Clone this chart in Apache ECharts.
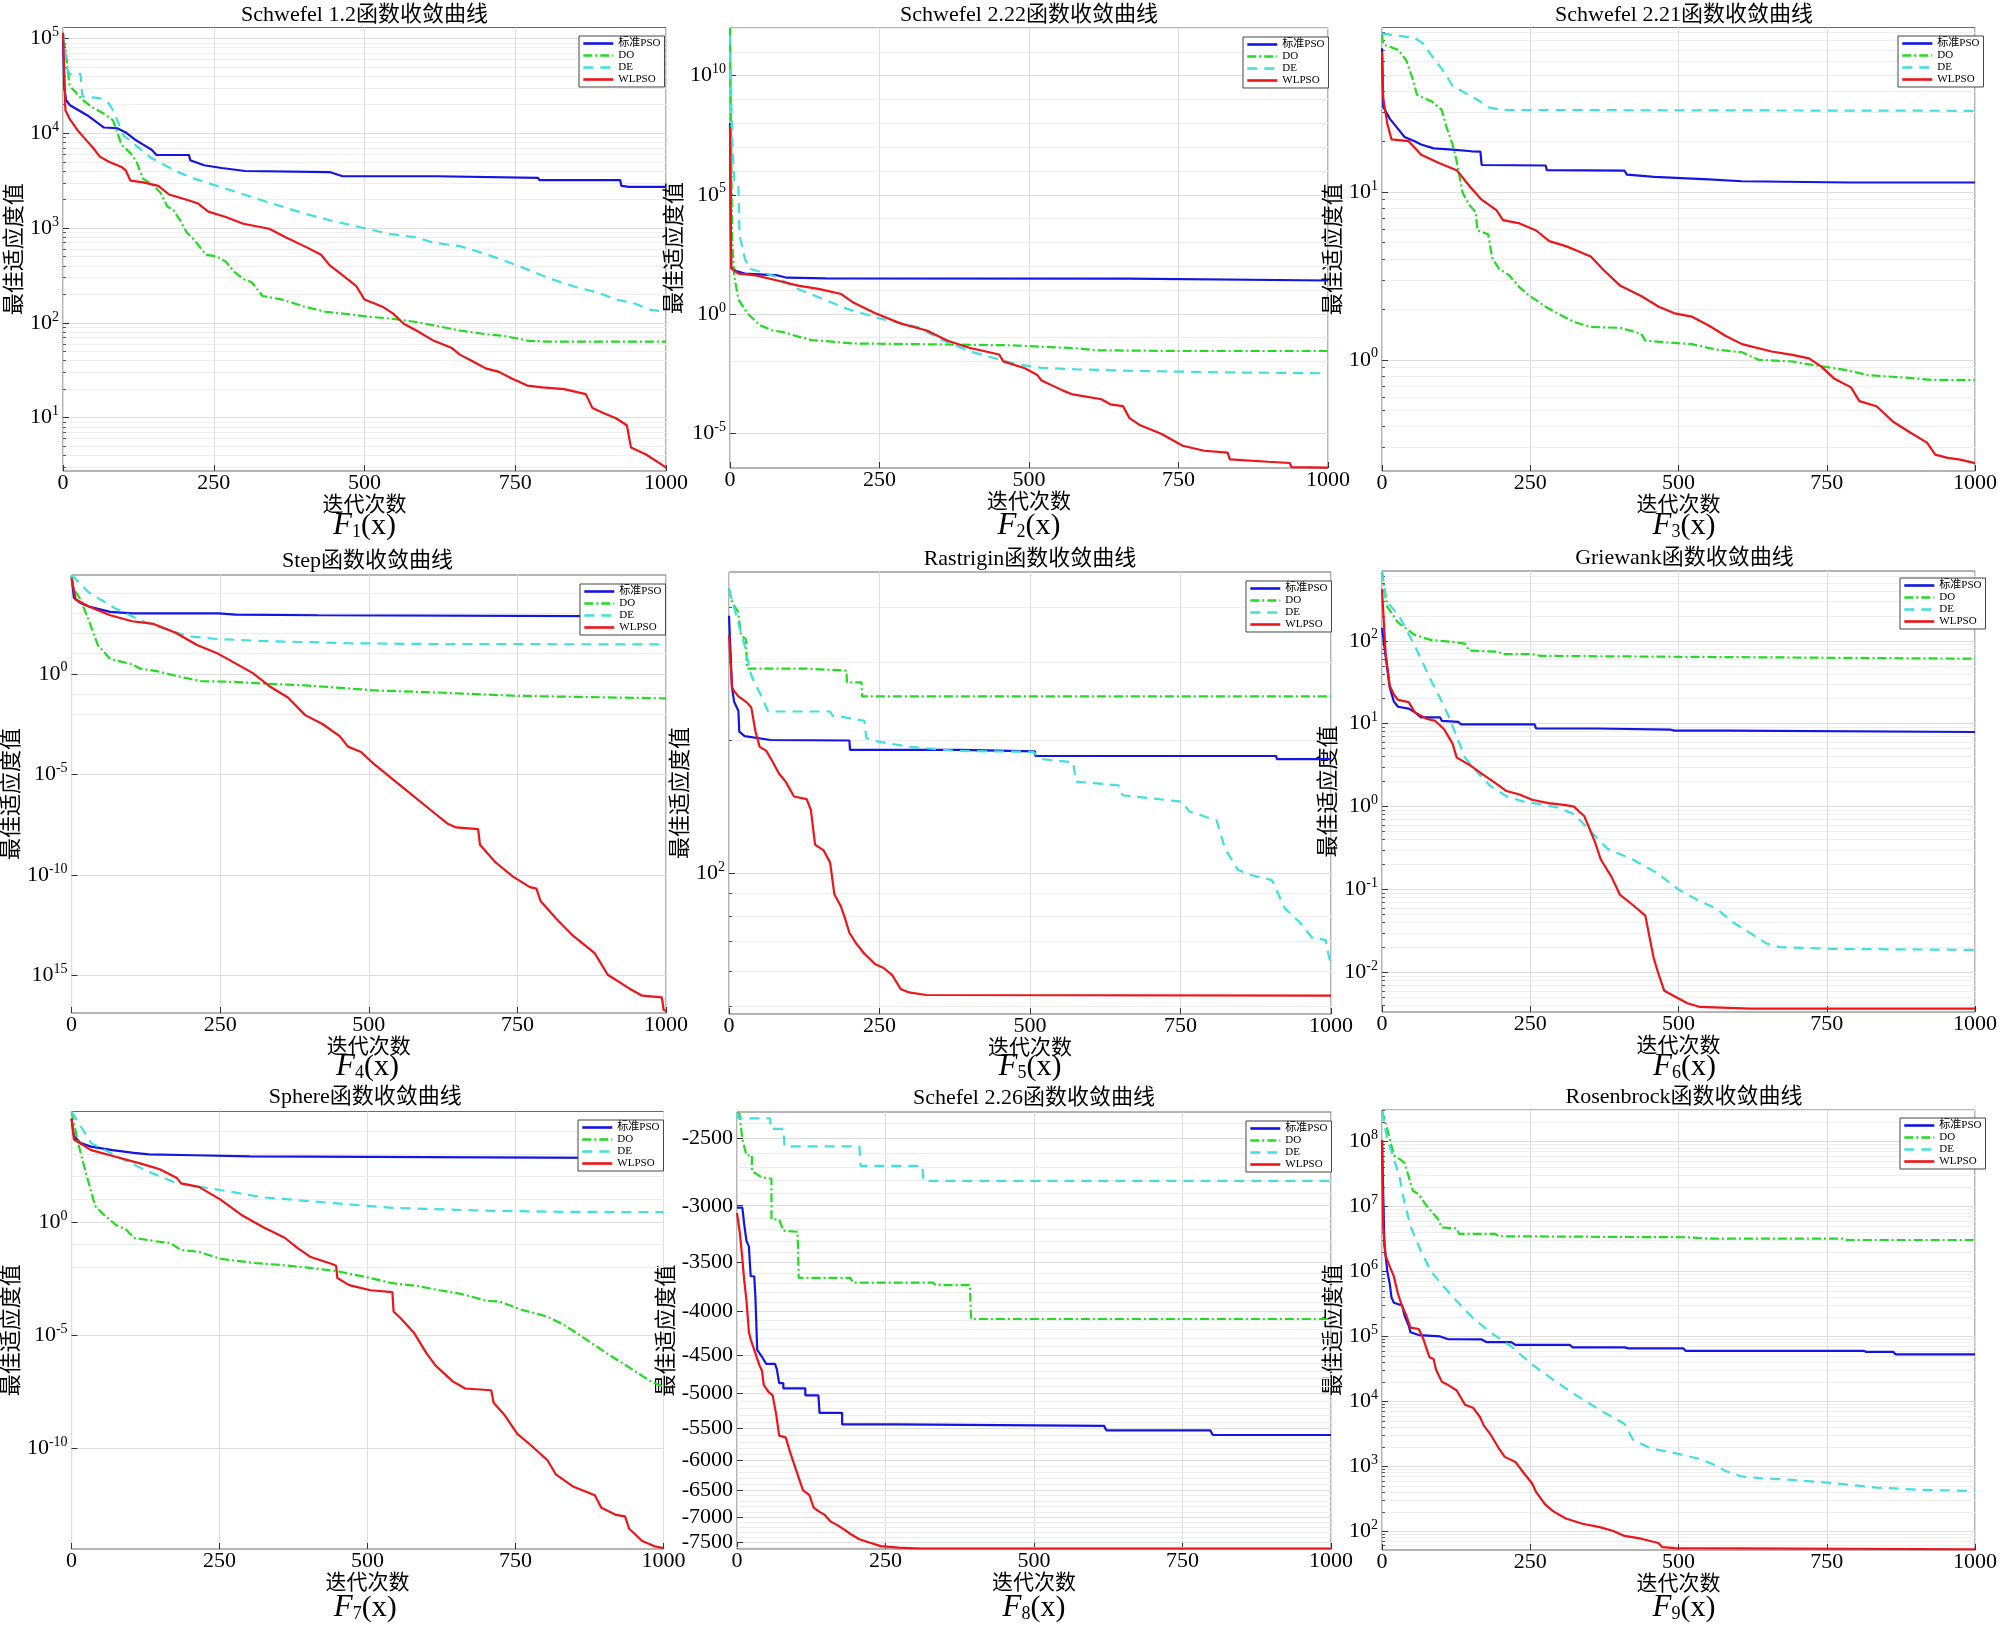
<!DOCTYPE html>
<html><head><meta charset="utf-8">
<script src="https://cdn.jsdelivr.net/npm/echarts/dist/echarts.min.js"></script>
<style>html,body{margin:0;padding:0;background:#fff}#c{width:2000px;height:1637px}</style>
</head><body><div id="c"></div>
<script>
// ---------------- data (iteration, best fitness) ----------------
const seriesNames = ['标准PSO', 'DO', 'DE', 'WLPSO'];
const xTicks = [0, 250, 500, 750, 1000];

const f1_pso = [[0,110000],[2,31500],[5,22500],[11,19900],[40,15500],[68,11500],[90,11300],[104,10200],[119,8600],[133,7600],[147,6700],[155,5900],[209,5900],[211,5200],[234,4600],[263,4300],[302,4000],[442,3900],[464,3520],[619,3520],[621,3380],[788,3380],[790,3210],[924,3210],[926,2790],[939,2720],[1000,2720]];
const f1_do = [[0,101600],[4,79100],[11,31600],[22,26700],[32,22600],[47,19100],[68,16100],[83,13700],[97,7600],[112,6170],[122,5000],[133,3300],[147,2900],[162,2360],[173,1690],[183,1550],[194,1210],[205,903],[219,732],[237,523],[255,502],[270,442],[284,344],[299,291],[313,268],[331,192],[363,176],[399,149],[435,131],[471,124],[507,116],[543,111],[586,102],[615,94],[658,83],[701,76],[730,73],[773,64.6],[802,63.5],[1000,63.5]];
const f1_de = [[0,115000],[7,47000],[11,42300],[29,42300],[32,24500],[61,23500],[76,20700],[83,17500],[101,9370],[119,7600],[133,6430],[147,5440],[169,4600],[191,3890],[219,3300],[255,2790],[291,2360],[327,1990],[363,1690],[399,1430],[442,1210],[493,1020],[543,864],[586,795],[615,701],[658,644],[687,569],[737,442],[781,344],[809,291],[853,236],[888,208],[917,176],[946,162],[975,137],[1000,131]];
const f1_wl = [[0,115000],[4,17500],[11,14200],[25,10600],[40,8260],[50,7000],[61,5670],[76,5000],[97,4410],[104,4060],[112,3160],[133,3030],[158,2790],[176,2260],[205,1990],[223,1830],[241,1490],[270,1310],[299,1110],[342,984],[370,795],[406,618],[428,523],[442,406],[464,316],[486,246],[500,176],[529,149],[547,126],[565,98],[586,83],[615,64.6],[644,54.7],[658,46.2],[680,39.1],[701,33.1],[723,30.4],[745,25.7],[770,21.8],[795,20.9],[831,20.0],[867,17.7],[878,12.6],[896,11.2],[917,9.85],[935,8.32],[942,4.83],[967,4.08],[989,3.31],[1000,2.97]];
const f1_yRange = [2.735, 130600];
const f1_yTicks = [10, 100, 1000, 1e4, 1e5];

const f2_pso = [[0,1e8],[2,90],[10,62],[25,49],[80,41],[95,33],[160,31],[665,30],[668,25.5],[1000,25.2]];
const f2_do = [[0,1e12],[3.6,1150],[7,41.5],[14,4.05],[29,1.07],[50,0.333],[71,0.202],[89,0.171],[114,0.111],[136,0.080],[186,0.063],[207,0.057],[329,0.053],[471,0.048],[579,0.036],[614,0.0295],[757,0.0276],[1000,0.0276]];
const f2_de = [[0,5e11],[3.6,2.5e7],[7,3.3e5],[14,2.4e5],[16,2000],[25,200],[32,81],[79,35],[107,13],[143,5.6],[200,1.5],[250,0.65],[314,0.28],[357,0.075],[400,0.0275],[450,0.012],[479,0.0078],[521,0.0054],[579,0.0047],[686,0.004],[829,0.0035],[1000,0.0032]];
const f2_wl = [[0,6.8e7],[2,81],[14,49],[43,41.5],[79,25.2],[114,15.3],[150,11],[186,6.8],[207,2.9],[243,1.07],[286,0.39],[329,0.2],[364,0.075],[400,0.038],[450,0.0197],[457,0.0101],[493,0.0052],[514,0.0027],[521,0.0016],[557,6e-4],[571,4.3e-4],[621,2.6e-4],[636,1.6e-4],[657,1.35e-4],[668,4.2e-5],[686,2.1e-5],[721,9.3e-6],[757,2.9e-6],[793,1.8e-6],[832,1.5e-6],[836,7.8e-7],[900,6.2e-7],[936,5.5e-7],[939,3.7e-7],[1000,3.5e-7]];
const f2_yRange = [3.39e-7, 1e12];
const f2_yTicks = [1e-5, 1, 1e5, 1e10];

const f3_pso = [[0,72],[2,32.3],[13,27.4],[27,23.8],[38,21.3],[55,20.1],[66,19.2],[87,18.2],[119,17.9],[151,17.5],[166,17.4],[168,14.5],[276,14.4],[278,13.5],[409,13.4],[413,12.7],[459,12.3],[551,11.9],[607,11.6],[788,11.4],[1000,11.4]];
const f3_do = [[0,87],[2,75.7],[27,70.5],[41,61],[52,47],[59,38],[84,34.7],[101,30.8],[108,24.9],[119,19.2],[126,15.2],[136,9.9],[147,8.4],[158,7.6],[161,5.9],[179,5.6],[186,4.04],[197,3.5],[214,3.2],[232,2.7],[246,2.45],[275,2.08],[296,1.89],[324,1.68],[352,1.57],[402,1.55],[437,1.43],[444,1.3],[480,1.27],[522,1.24],[564,1.15],[607,1.11],[635,1.0],[692,0.977],[728,0.93],[784,0.867],[820,0.809],[869,0.789],[926,0.76],[1000,0.76]];
const f3_de = [[0,88],[55,83],[69,77],[87,62.6],[105,51.9],[119,42.9],[140,39],[161,35.5],[180,32],[204,30.8],[268,30.8],[1000,30.5]];
const f3_wl = [[0,68.9],[2,36.4],[9,25.5],[16,20.6],[45,20.1],[66,16.7],[98,14.8],[126,13.5],[147,10.9],[168,9.0],[193,7.8],[204,6.8],[232,6.5],[260,5.9],[282,5.1],[310,4.76],[331,4.44],[352,4.13],[374,3.42],[402,2.76],[437,2.4],[466,2.08],[494,1.89],[522,1.81],[551,1.6],[579,1.39],[607,1.24],[657,1.12],[692,1.07],[720,1.02],[741,0.91],[763,0.77],[791,0.685],[805,0.567],[834,0.529],[862,0.427],[890,0.37],[919,0.321],[933,0.272],[954,0.26],[975,0.254],[1000,0.242]];
const f3_yRange = [0.2173, 95.7];
const f3_yTicks = [1, 10];

const f4_pso = [[0,67000],[4,6000],[15,3300],[29,2200],[65,1200],[102,1000],[247,1000],[276,880],[415,810],[418,720],[1000,720]];
const f4_do = [[0,81000],[4,16000],[15,4900],[29,445],[44,27],[65,5.4],[102,2.95],[116,1.8],[145,1.32],[182,0.72],[218,0.43],[269,0.4],[320,0.33],[393,0.266],[516,0.146],[611,0.119],[749,0.08],[1000,0.06]];
const f4_de = [[0,81000],[29,11000],[73,1800],[116,450],[160,163],[196,73],[247,53],[320,43],[465,33],[611,30],[1000,29]];
const f4_wl = [[0,55000],[7,4900],[29,2200],[65,810],[102,410],[138,300],[175,109],[211,27],[247,9.8],[284,2.4],[305,1.08],[335,0.22],[364,0.066],[393,0.0088],[422,0.0032],[451,8e-4],[465,2.4e-4],[487,1.3e-4],[509,3.2e-5],[538,6.5e-6],[567,1.3e-6],[604,1.7e-7],[633,3.5e-8],[647,2.3e-8],[684,1.9e-8],[687,3.2e-9],[713,4.3e-10],[742,8.5e-11],[771,2.5e-11],[782,2.1e-11],[789,5.1e-12],[815,6.9e-13],[844,9.3e-14],[880,1.3e-14],[902,1.1e-15],[938,2.3e-16],[960,1e-16],[993,8.3e-17],[996,2e-17],[1000,1.7e-17]];
const f4_yRange = [1.38e-17, 8.13e4];
const f4_yTicks = [1, 1e-5, 1e-10, 1e-15];
const f4_yTickExp = ['0', '-5', '-10', '15'];

const f5_pso = [[0,382],[5,263],[8.5,244],[15.6,233],[17,209],[26,204],[69,200],[200,199.5],[201,190],[384,190],[385,188.5],[508,188.5],[509,184],[909,184],[910,181],[1000,181]];
const f5_do = [[0,440],[5,410],[15,390],[20,345],[28,338],[30,290],[129,290],[131,287],[195,287],[196,270],[220,270],[221,251],[1000,251]];
const f5_de = [[0,438],[26,327],[37,280],[55,249],[65,232],[168,232],[172,227],[193,225],[225,221],[228,202],[250,198],[300,193],[377,189],[505,188],[519,181],[572,178],[576,161],[647,158],[654,150],[753,145],[764,138],[810,131.5],[824,113.6],[845,101.8],[867,99],[902,96.4],[923,83.3],[948,77.4],[969,71.3],[991,70.6],[1000,61.4]];
const f5_wl = [[0,346],[5,263],[8.5,258],[15.6,251],[30,243],[37,237],[44,209],[51,193],[62,189],[72,179],[83,168],[94,161],[108,149],[129,147],[136,139],[143,116],[157,112.6],[168,105.6],[175,89.6],[186,84],[193,78.8],[200,73.3],[211,69.4],[225,65.7],[243,62.2],[257,61],[271,58.8],[285,54.7],[299,53.7],[328,53],[1000,52.8]];
const f5_yRange = [48.0, 479.8];
const f5_yTicks = [100];

const f6_pso = [[0,143],[6,66],[13,27.4],[20,18.5],[27,16],[45,15.2],[55,13.8],[66,11.9],[98,11.9],[101,10.8],[129,10.5],[133,9.84],[257,9.84],[260,8.75],[363,8.75],[366,8.5],[486,8.5],[493,8.24],[582,8.24],[585,7.94],[1000,7.94]];
const f6_do = [[0,683],[9,257],[27,166],[55,118],[83,102],[119,97],[140,92.5],[147,76],[196,74],[204,69],[253,69],[267,65.8],[437,64.6],[440,61.4],[1000,60.8]];
const f6_de = [[0,683],[6,313],[30,192],[41,136],[55,88],[69,54],[83,33],[98,20.4],[112,12.5],[126,7],[140,3.9],[161,2.6],[182,1.79],[210,1.33],[239,1.15],[267,1.07],[295,0.98],[324,0.81],[352,0.5],[380,0.31],[423,0.23],[465,0.156],[500,0.1],[536,0.072],[564,0.059],[592,0.04],[621,0.0298],[649,0.0222],[670,0.0202],[762,0.0192],[1000,0.0187]];
const f6_wl = [[0,419],[6,72],[13,28.7],[20,22.5],[27,19.4],[45,18.2],[55,13.8],[76,11.4],[90,10.8],[105,8.5],[119,5.75],[126,3.9],[147,3.2],[168,2.5],[189,1.97],[210,1.54],[232,1.4],[253,1.21],[281,1.1],[310,1.04],[324,1.0],[331,0.89],[341,0.77],[352,0.5],[359,0.376],[369,0.23],[387,0.142],[401,0.087],[423,0.065],[444,0.0485],[451,0.027],[458,0.0151],[465,0.0102],[476,0.006],[493,0.00516],[515,0.00424],[535,0.00385],[621,0.00366],[1000,0.00366]];
const f6_yRange = [0.00333, 695];
const f6_yTicks = [0.01, 0.1, 1, 10, 100];

const f7_pso = [[0,37000],[4,6300],[15,3100],[33,2150],[69,1500],[105,1130],[131,980],[207,890],[302,790],[305,740],[1000,660]];
const f7_do = [[0,76000],[11,3100],[25,124],[40,5],[55,2.04],[76,0.7],[91,0.49],[105,0.2],[142,0.14],[167,0.117],[185,0.057],[215,0.048],[251,0.0235],[309,0.0153],[353,0.0125],[396,0.0097],[447,0.0068],[505,0.0033],[542,0.00195],[585,0.00146],[622,9.5e-4],[658,6.6e-4],[702,3.2e-4],[724,3e-4],[760,1.3e-4],[804,6.5e-5],[833,2.7e-5],[869,6.4e-6],[905,1.5e-6],[942,3.7e-7],[978,8.9e-8],[1000,5.1e-8]];
const f7_de = [[0,76000],[33,3100],[91,515],[135,148],[178,51],[236,30],[324,12.2],[433,7.1],[542,4.2],[687,3.2],[833,2.8],[1000,2.7]];
const f7_wl = [[0,37000],[4,4400],[33,1500],[76,740],[120,360],[149,213],[178,87],[185,51],[215,35.5],[251,10],[287,2.04],[324,0.58],[360,0.2],[382,0.069],[404,0.028],[440,0.0138],[447,0.0115],[449,0.0033],[469,0.0016],[505,9.5e-4],[542,7.9e-4],[544,1.1e-4],[556,5.5e-5],[578,1.3e-5],[600,1.5e-6],[615,4.4e-7],[644,8.9e-8],[665,4.3e-8],[709,3.6e-8],[713,1e-8],[731,3e-9],[753,4.2e-10],[775,1.4e-10],[804,2.9e-11],[818,6.9e-12],[847,2e-12],[884,8.1e-13],[895,2.3e-13],[920,1.1e-13],[935,9.5e-14],[942,2.7e-14],[964,7.8e-15],[985,4.5e-15],[1000,3.8e-15]];
const f7_yRange = [3.43e-15, 7.66e4];
const f7_yTicks = [1, 1e-5, 1e-10];

const f8_pso = [[0,-3016],[9,-3016],[12,-3149],[16,-3303],[20,-3351],[23,-3634],[29,-3634],[31,-3848],[34,-4439],[42,-4524],[49,-4611],[64,-4611],[67,-4677],[71,-4860],[78,-4860],[78,-4929],[115,-4929],[115,-5024],[137,-5024],[139,-5269],[177,-5269],[177,-5438],[268,-5438],[270,-5459],[618,-5459],[622,-5527],[797,-5527],[801,-5596],[1000,-5596]];
const f8_do = [[0,-2330],[4,-2335],[9,-2505],[16,-2616],[25,-2616],[25,-2731],[42,-2777],[58,-2789],[58,-3113],[71,-3113],[78,-3210],[102,-3220],[104,-3651],[191,-3651],[195,-3697],[330,-3697],[334,-3722],[392,-3722],[394,-4082],[1000,-4082]];
const f8_de = [[0,-2330],[2,-2366],[56,-2366],[56,-2434],[78,-2434],[80,-2553],[206,-2553],[208,-2692],[312,-2692],[314,-2804],[1000,-2804]];
const f8_wl = [[0,-3060],[5,-3240],[9,-3465],[12,-3668],[16,-3885],[20,-4230],[23,-4314],[31,-4481],[38,-4634],[42,-4700],[45,-4883],[53,-4977],[60,-5024],[66,-5295],[71,-5606],[82,-5633],[89,-5852],[96,-6053],[104,-6287],[111,-6501],[122,-6592],[129,-6817],[137,-6883],[147,-6949],[158,-7083],[169,-7150],[180,-7234],[191,-7325],[206,-7429],[220,-7485],[242,-7571],[272,-7600],[308,-7620],[1000,-7620]];
const f8_yRange = [-7630, -2325];
const f8_yTicks = [-2500, -3000, -3500, -4000, -4500, -5000, -5500, -6000, -6500, -7000, -7500];

const f9_pso = [[0,1.06e8],[4,2.57e6],[9,1e6],[13,6.5e5],[16,4e5],[20,3.3e5],[34,3e5],[38,2.1e5],[45,1.47e5],[48,1.16e5],[62,1.05e5],[98,1e5],[112,9.05e4],[168,9e4],[176,8.2e4],[218,8.2e4],[225,7.4e4],[317,7.4e4],[321,6.8e4],[409,6.8e4],[416,6.55e4],[508,6.55e4],[512,6e4],[812,6e4],[816,5.8e4],[862,5.8e4],[866,5.3e4],[1000,5.3e4]];
const f9_do = [[0,2.95e8],[9,1.54e8],[20,6.1e7],[30,5.37e7],[38,4.7e7],[45,2.88e7],[52,1.75e7],[62,1.55e7],[76,1e7],[94,6.5e6],[101,4.76e6],[126,4.6e6],[130,3.8e6],[190,3.8e6],[197,3.49e6],[515,3.36e6],[551,3.2e6],[777,3.2e6],[784,3.05e6],[1000,3.05e6]];
const f9_de = [[0,2.9e8],[9,1.07e8],[20,5.4e7],[30,2.7e7],[38,1.14e7],[48,5e6],[66,2e6],[83,1e6],[105,5.7e5],[126,3.5e5],[154,1.9e5],[183,1.15e5],[218,7e4],[253,3.7e4],[289,2.14e4],[324,1.3e4],[367,7.4e3],[409,4.5e3],[423,2.6e3],[452,1.9e3],[494,1.6e3],[536,1.3e3],[564,1.02e3],[579,850],[607,700],[636,660],[692,620],[763,550],[834,472],[904,437],[1000,417]];
const f9_wl = [[0,1.06e8],[2,4.8e6],[6,1.76e6],[13,1.2e6],[20,8.4e5],[27,4.5e5],[34,2.9e5],[41,2.1e5],[48,1.37e5],[62,1.3e5],[69,9.5e4],[80,4.8e4],[87,4.5e4],[91,3.1e4],[101,2e4],[112,1.78e4],[126,1.47e4],[140,8.9e3],[154,7.9e3],[165,5.8e3],[172,4.2e3],[183,3.1e3],[197,1.9e3],[207,1.4e3],[225,1.17e3],[239,790],[253,550],[260,400],[275,260],[289,203],[310,158],[338,131],[367,116],[389,102],[409,85],[437,77],[466,66],[473,57],[494,55],[1000,53]];
const f9_yRange = [51.6, 3.06e8];
const f9_yTicks = [100, 1e3, 1e4, 1e5, 1e6, 1e7, 1e8];

// ---------------- layout & style ----------------
const SERIF = "'Liberation Serif','Noto Sans CJK SC',serif";
const STYLES = [
  {color:'#1414e6', type:'solid'},
  {color:'#22dc22', type:[9,3,2,3]},
  {color:'#40e0e0', type:[10,7]},
  {color:'#ee1418', type:'solid'}
];
const panels = [
  {title:'Schwefel 1.2函数收敛曲线', sub:'1', box:[63,27.5,666,471], tt:4, ft:511, yr:f1_yRange, yt:f1_yTicks, minor:'log', d:[f1_pso,f1_do,f1_de,f1_wl], lg:[579,36], ng:32},
  {title:'Schwefel 2.22函数收敛曲线', sub:'2', box:[730,28,1328,468], tt:4, ft:511, yr:f2_yRange, yt:f2_yTicks, minor:'decade', d:[f2_pso,f2_do,f2_de,f2_wl], lg:[1243,37], ng:32},
  {title:'Schwefel 2.21函数收敛曲线', sub:'3', box:[1382,27.5,1986,471], tt:4, ft:511, yr:f3_yRange, yt:f3_yTicks, minor:'log', d:[f3_pso,f3_do,f3_de,f3_wl], lg:[1898,36], ng:25},
  {title:'Step函数收敛曲线', sub:'4', box:[69,575,666,1013], tt:550, ft:1052, yr:f4_yRange, yt:f4_yTicks, ytx:f4_yTickExp, minor:'decade', d:[f4_pso,f4_do,f4_de,f4_wl], lg:[580,584], ng:41},
  {title:'Rastrigin函数收敛曲线', sub:'5', box:[729,572,1331,1014], tt:548, ft:1052, yr:f5_yRange, yt:f5_yTicks, minor:'log', d:[f5_pso,f5_do,f5_de,f5_wl], lg:[1246,581], ng:29},
  {title:'Griewank函数收敛曲线', sub:'6', box:[1382,571,1987,1012], tt:547, ft:1052, yr:f6_yRange, yt:f6_yTicks, minor:'log', d:[f6_pso,f6_do,f6_de,f6_wl], lg:[1900,578], ng:24},
  {title:'Sphere函数收敛曲线', sub:'7', box:[67,1111.5,663.5,1549], tt:1086, ft:1593, yr:f7_yRange, yt:f7_yTicks, minor:'decade', d:[f7_pso,f7_do,f7_de,f7_wl], lg:[578,1120], ng:34},
  {title:'Schefel 2.26函数收敛曲线', sub:'8', box:[737,1112,1331,1549], tt:1087, ft:1593, yr:f8_yRange, yt:f8_yTicks, minor:'neg', d:[f8_pso,f8_do,f8_de,f8_wl], lg:[1246,1121], ng:51},
  {title:'Rosenbrock函数收敛曲线', sub:'9', box:[1382,1110,1986,1550], tt:1086, ft:1593, yr:f9_yRange, yt:f9_yTicks, minor:'log', d:[f9_pso,f9_do,f9_de,f9_wl], lg:[1900,1118], ng:24}
];

const richLbl = {
  b:{fontSize:22, fontFamily:SERIF, fontWeight:'normal', color:'#000', lineHeight:26},
  s:{fontSize:14, fontFamily:SERIF, fontWeight:'normal', color:'#000', lineHeight:14, verticalAlign:'top'}
};

const option = {animation:false, textStyle:{fontFamily:SERIF, fontWeight:'normal'}, title:[], legend:[], grid:[], xAxis:[], yAxis:[], series:[]};

panels.forEach((p, i) => {
  const [l, t, r, b] = p.box;
  const cx = (l + r) / 2;
  const neg = p.minor === 'neg';
  option.grid.push({left:l, top:t, width:r - l, height:b - t, show:true, borderColor:'#6a6a6a', borderWidth:1, backgroundColor:'#fff'});
  option.title.push({text:p.title, left:cx, top:p.tt, textAlign:'center', textVerticalAlign:'top', padding:0,
    textStyle:{fontSize:22, fontWeight:'normal', color:'#000', fontFamily:SERIF}});
  option.title.push({text:'{f|F}{s|' + p.sub + '}{p|(x)}', left:cx, top:p.ft, textAlign:'center', textVerticalAlign:'top', padding:0,
    textStyle:{fontSize:30, fontWeight:'normal', color:'#000', fontFamily:SERIF, rich:{
      f:{fontSize:31, fontStyle:'italic', fontWeight:'normal', fontFamily:SERIF, color:'#000', lineHeight:30},
      s:{fontSize:18, fontWeight:'normal', fontFamily:SERIF, color:'#000', lineHeight:6, verticalAlign:'bottom'},
      p:{fontSize:30, fontWeight:'normal', fontFamily:SERIF, color:'#000', lineHeight:30}}}});
  option.xAxis.push({gridIndex:i, type:'value', min:xTicks[0], max:xTicks[xTicks.length - 1], interval:xTicks[1] - xTicks[0],
    axisLine:{show:false}, axisTick:{show:true, inside:true, length:6, lineStyle:{color:'#333'}},
    axisLabel:{fontSize:22, color:'#000', fontFamily:SERIF, margin:1, formatter: v => String(v)},
    splitLine:{show:true, lineStyle:{color:'#dedede', width:1}},
    name:'迭代次数', nameLocation:'middle', nameGap:20, nameTextStyle:{fontSize:21, fontWeight:'normal', color:'#000', fontFamily:SERIF}});

  const tickVals = neg ? p.yt.map(v => -v) : p.yt;
  const fmt = v => {
    if (neg) {
      const idx = p.yt.findIndex(t => Math.abs(-t - v) < 1e-6);
      return idx >= 0 ? String(p.yt[idx]) : '';
    }
    const e = Math.log10(v);
    const idx = p.yt.findIndex(t => Math.abs(Math.log10(t) - e) < 1e-6);
    if (idx < 0) return '';
    const ex = p.ytx ? p.ytx[idx] : String(Math.round(e));
    return '{b|10}{s|' + ex + '}';
  };
  option.yAxis.push({gridIndex:i, type:'log', logBase:10,
    min: neg ? -p.yr[1] : p.yr[0], max: neg ? -p.yr[0] : p.yr[1], inverse: neg,
    axisLine:{show:false},
    axisTick:{show:true, inside:true, length:6, customValues:tickVals, lineStyle:{color:'#333'}},
    axisLabel:{customValues:tickVals, formatter:fmt, margin:4, fontSize:22, color:'#000', fontFamily:SERIF, rich:richLbl},
    minorTick:{show:p.minor === 'log', splitNumber:9, length:3, lineStyle:{color:'#555'}},
    minorSplitLine:{show:p.minor === 'log', lineStyle:{color:'#efefef', width:1}},
    splitLine:{show:true, lineStyle:{color:'#dedede', width:1}},
    name:'最佳适应度值', nameLocation:'middle', nameGap:p.ng, nameTextStyle:{fontSize:22, fontWeight:'normal', color:'#000', fontFamily:SERIF}});

  // light minor grid lines for axes whose labelled ticks are not every decade
  let minorVals = [];
  if (p.minor === 'decade') {
    for (let k = Math.ceil(Math.log10(p.yr[0])); k <= Math.floor(Math.log10(p.yr[1])); k++) {
      if (k % 5 !== 0) minorVals.push(Math.pow(10, k));
    }
  } else if (neg) {
    for (let v = 2400; v <= 7600; v += 100) { if (v % 500 !== 0) minorVals.push(v); }
  }

  p.d.forEach((arr, k) => {
    const s = {type:'line', name:seriesNames[k], xAxisIndex:i, yAxisIndex:i,
      data: neg ? arr.map(q => [q[0], -q[1]]) : arr,
      symbol:'none', showSymbol:false, clip:true, z:3 + k,
      lineStyle:{color:STYLES[k].color, width:2.2, type:STYLES[k].type},
      itemStyle:{color:STYLES[k].color}, emphasis:{disabled:true}};
    if (k === 0 && minorVals.length) {
      s.markLine = {silent:true, symbol:'none', z:1, animation:false, label:{show:false},
        lineStyle:{color:'#ececec', type:'solid', width:1},
        data: minorVals.map(v => ({yAxis:v}))};
    }
    option.series.push(s);
  });

  option.legend.push({data:seriesNames, orient:'vertical', left:p.lg[0], top:p.lg[1],
    itemWidth:30, itemHeight:11, itemGap:1, padding:[2,4,2,3], backgroundColor:'#fff',
    borderColor:'#444', borderWidth:1, borderRadius:0, selectedMode:false,
    itemStyle:{opacity:0, borderWidth:0}, lineStyle:{width:2.6},
    textStyle:{fontSize:11, color:'#000', fontFamily:SERIF}});
});

const chart = echarts.init(document.getElementById('c'), null, {renderer:'canvas'});
chart.setOption(option);
</script>
</body></html>
